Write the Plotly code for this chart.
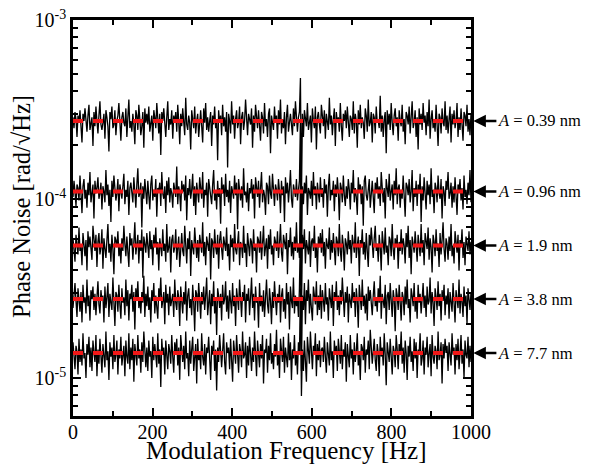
import numpy as np
import plotly.graph_objects as go

# Mean phase-noise levels (red dashed lines), rad/sqrt(Hz)
amplitudes = ["0.39", "0.96", "1.9", "3.8", "7.7"]
levels = [2.73e-4, 1.10e-4, 5.50e-5, 2.76e-5, 1.38e-5]

# Estimated fluctuations of each trace about its mean, in hundredths of a decade
dev_039 = [
    2,-4,5,1,-9,3,-1,6,-3,-12,4,0,7,-2,-6,3,9,-5,-1,2,-14,5,-3,8,0,
    -7,3,11,-2,-5,-1,4,-10,6,2,-3,-17,5,1,8,-4,-2,6,-8,0,3,10,-6,-11,2,
    5,-1,-3,7,-9,2,12,-4,0,-6,4,-2,-13,6,3,-5,9,1,-8,-3,5,-15,7,-1,4,
    -2,8,-6,0,3,-11,6,2,-4,10,-1,-7,4,-19,5,0,7,-3,-9,2,11,-5,1,-2,6,
    -10,3,-1,5,-6,9,0,-13,4,-3,7,1,-8,13,-2,-5,3,-1,-16,6,2,-4,8,-7,0,
    4,-9,1,6,-3,-12,7,-1,10,-5,2,-6,0,5,-14,3,-2,8,-4,1,-22,6,-1,3,-8,
    9,-3,2,-6,5,-26,4,0,-7,11,-2,3,-10,1,6,-4,-1,8,-13,2,5,-5,0,12,-3,
    -8,4,1,-2,7,-15,3,-6,9,0,-4,6,-1,-11,5,2,-7,10,-3,1,-9,4,7,-18,3,
    0,-5,8,-1,3,-10,6,-2,12,-7,1,-4,5,-13,2,9,-6,0,4,-2,-8,7,-3,11,-1,
    -6,2,5,24,-45,4,-9,6,1,-3,10,-5,-1,3,-12,7,0,-4,8,-16,2,5,-2,-7,9,
    1,-3,6,-10,4,0,-5,13,-2,3,-8,1,7,-14,5,-1,2,-6,10,-3,-11,4,0,6,-4,
    8,-2,-9,3,1,-5,11,-7,4,0,-15,6,-2,9,-4,2,-1,-10,7,3,-6,12,-3,-1,5,
    -12,4,2,-7,8,-1,0,-4,14,-6,3,-9,1,5,-18,6,-2,4,-5,10,-1,-8,3,7,-3,
    2,-11,6,0,-3,9,-6,1,-13,5,3,-2,8,-7,0,11,-4,-1,6,-9,2,-16,7,-2,4,
    -5,10,-1,3,-8,5,-3,12,-10,1,6,-4,0,-6,9,-2,-14,4,2,-7,7,-1,-3,11,-5,
    3,-7,1,8,-12,4,-2,6,-4,0,10,-9,2,-5,7,-1,-11,5,3,-3,9,-6,1,-8,4,
]
dev_096 = [
    -3,6,0,-8,4,2,-5,9,-1,-12,3,7,-4,1,-9,5,-2,11,-6,0,4,-15,6,-1,2,
    8,-4,-1,5,-10,3,0,-6,12,-2,4,-8,1,-17,6,-3,9,2,-5,-1,7,-11,4,0,-4,
    3,10,-7,1,-3,6,-13,2,5,-1,-6,8,0,-9,4,13,-3,-1,5,-20,3,-4,7,1,-7,
    6,-2,-10,4,9,-5,1,-3,7,-14,2,0,5,-8,11,-1,-4,3,-12,6,-2,8,-6,2,-1,
    -9,5,1,-3,14,-7,3,-1,-11,6,0,4,-5,9,-16,2,-2,7,-4,1,10,-8,3,-13,5,
    0,-6,8,2,-4,11,-9,1,-2,5,-14,7,3,-1,-7,4,12,-5,0,-10,6,-3,2,-18,8,
    -1,4,-8,10,-3,1,-6,6,-12,3,0,-4,9,-2,5,-21,7,1,-5,3,-9,13,-2,0,-6,
    5,-11,2,-1,7,-4,4,-15,8,0,-3,6,-9,2,11,-6,1,-2,-13,5,3,-7,9,-1,-4,
    10,-3,-8,4,1,-5,7,0,-12,6,-2,3,-17,8,-1,5,-6,2,12,-4,-9,4,0,-3,7,
    -5,1,6,40,-40,3,-7,5,-1,9,-13,2,0,-4,6,-8,11,-2,3,-10,5,-1,-6,8,-3,
    2,-9,7,-1,4,-14,3,10,-5,1,-2,6,-11,4,-3,8,0,-16,5,2,-6,9,-2,-8,3,
    -4,7,1,-10,5,-1,12,-6,2,-3,-13,8,0,4,-7,3,-19,6,9,-2,-5,1,7,-9,2,
    6,-3,-12,5,0,8,-4,3,-8,11,-1,-6,2,-15,7,1,-3,10,-5,0,4,-10,6,-2,13,
    -7,2,4,-9,1,-4,9,-1,-14,5,3,-2,7,-6,0,12,-11,2,-3,6,-8,4,-1,10,-17,
    3,-5,8,0,-10,6,-2,4,-7,13,-3,1,-12,5,2,-6,9,-1,-4,7,-15,3,0,-8,6,
    1,11,-4,-1,5,-9,3,-6,8,-2,-13,4,0,7,-5,2,-10,9,-3,1,-7,5,-2,12,-6,
]
dev_19 = [
    4,-2,-9,6,1,-5,10,-3,0,-11,7,2,-6,3,-14,8,-1,5,-4,-8,11,0,-3,6,-12,
    2,7,-5,-1,9,-13,4,0,-7,3,12,-4,1,-9,6,-2,-16,5,3,-1,8,-6,0,-10,4,
    -3,11,1,-6,5,-2,-12,7,0,4,-8,2,13,-5,-1,6,-10,3,-3,9,-18,5,1,-4,7,
    0,-7,8,-2,3,-11,6,-1,10,-5,2,-14,4,0,-6,9,-3,1,-9,12,-4,-1,5,-15,3,
    6,-4,-1,9,-8,2,5,-12,0,7,-3,-6,11,1,-10,4,-2,8,-17,3,0,-5,10,-2,-7,
    3,-9,6,1,-4,13,-6,2,-11,5,0,-3,7,-19,4,2,-7,9,-1,-5,6,-13,3,8,-2,
    -8,5,0,-3,10,-6,1,-14,6,-1,4,-9,12,-2,-5,3,8,-11,2,0,-7,11,-4,1,-12,
    7,-1,-6,4,2,-10,9,-3,0,-15,5,3,-4,8,-8,1,11,-6,-1,4,-13,6,-2,9,-5,
    0,-11,5,2,-3,8,-7,1,12,-4,-9,6,0,-2,7,-16,3,-1,10,-6,2,-8,5,-3,13,
    -4,1,-7,38,-40,6,-2,9,-10,3,0,-5,8,-12,2,4,-3,11,-7,1,-15,5,-1,7,-4,
    9,-6,2,-13,4,0,-2,10,-8,3,-4,7,-1,-11,5,2,-6,12,-3,-9,6,0,-14,4,1,
    -5,8,-2,3,-10,6,1,-4,13,-7,0,5,-17,3,-1,9,-5,2,-8,7,-3,-12,6,0,10,
    -2,-7,4,11,-3,1,-9,6,-1,-14,8,2,-5,10,-4,0,-11,5,3,-6,12,-2,-8,4,-1,
    6,-13,2,-3,9,-5,4,0,-10,7,-1,11,-7,3,-16,5,1,-4,8,-2,-9,6,0,-6,12,
    -4,3,-11,7,0,-2,10,-8,4,-1,-15,6,2,-6,9,-3,1,-12,7,-5,3,13,-2,-9,4,
    1,-8,5,-3,12,-6,0,-10,8,2,-4,6,-14,3,-1,9,-7,2,-11,5,0,-3,8,-5,2,
]
dev_38 = [
    -5,3,9,-1,-10,6,0,-7,4,-13,8,-2,1,-8,11,-4,2,-12,5,0,7,-6,3,-9,1,
    10,-3,-8,5,-1,2,-13,7,-5,1,9,-10,3,-2,-6,12,0,-15,4,2,-7,8,-3,-11,6,
    -2,1,-9,11,-4,5,-12,3,0,8,-7,4,-17,6,-1,10,-5,1,-8,4,-2,13,-10,3,-4,
    7,-6,1,-13,5,-1,9,-8,2,-3,-11,6,0,12,-5,-1,4,-14,8,-2,3,-9,7,-4,0,
    3,-10,11,-2,-6,5,1,-15,7,-1,-8,4,-3,10,-12,2,6,-5,0,-9,8,-2,-18,5,3,
    -7,9,0,-11,4,-3,7,-6,2,12,-9,-1,5,-14,3,-4,10,-8,1,-20,6,2,-5,3,-12,
    8,-3,0,10,-7,2,-11,5,-1,-8,9,-4,2,-15,6,0,-6,11,-2,-10,4,-1,8,-13,3,
    -1,6,-9,1,12,-5,3,-12,7,-2,0,-16,9,-4,2,-7,5,-10,1,11,-3,-8,6,-1,-14,
    4,-5,10,0,-9,3,-2,8,-13,2,6,-7,0,-11,9,-3,4,-17,7,-1,-5,12,-8,2,-4,
    1,-10,6,38,-40,2,-6,9,-14,5,-1,11,-8,3,-5,-12,7,0,-3,10,-9,2,-6,8,-11,
    5,-2,-7,9,-3,1,-12,6,0,-5,8,-15,4,-1,10,-6,2,-9,5,-3,12,-1,-10,4,-2,
    7,-13,3,0,-5,9,-2,4,-10,6,-1,-16,8,1,-6,11,-4,2,-8,3,-12,7,-1,5,-3,
    -9,2,10,-4,0,-7,6,-2,13,-11,3,-1,-5,8,-14,2,4,-6,9,-1,-10,5,0,-18,6,
    2,-6,8,-1,-12,4,1,-9,7,-3,11,-5,0,-13,6,2,-4,9,-7,1,-11,8,-2,3,-8,
    0,9,-5,2,-10,7,-3,-1,12,-8,4,-2,-15,6,1,-6,10,-4,3,-12,5,-1,8,-9,2,
    -3,6,-11,4,0,-7,9,-2,-13,5,1,-5,11,-8,3,-1,-10,7,-4,2,-14,6,0,-6,4,
]
dev_77 = [
    6,-2,-9,4,1,-12,8,-5,2,-7,11,-3,0,-14,5,-1,9,-8,3,-10,7,0,-5,10,-13,
    2,-6,8,-1,-11,5,0,-8,12,-4,1,-15,6,-2,3,-9,10,-5,-1,7,-12,2,-3,9,-7,
    -1,4,-13,7,-2,-6,11,-9,3,-4,8,-16,5,0,-7,10,-3,2,-11,6,-5,12,-2,-8,3,
    -10,7,-2,1,-14,9,-4,5,-1,-8,11,-6,2,-19,8,-1,3,-12,7,-3,-9,5,1,-6,10,
    -2,-11,6,0,8,-7,3,-15,10,-1,-5,4,-9,12,-3,0,-13,7,-6,2,9,-10,-2,5,-17,
    8,-4,1,-9,11,-2,-7,5,-12,3,0,9,-6,-15,4,-1,7,-10,2,-21,3,-5,10,-3,-8,
    1,11,-5,-12,6,0,3,-9,8,-4,-16,7,0,-6,10,-2,-11,5,1,-8,12,-3,-1,6,-14,
    4,-7,9,-1,-10,3,-5,12,-2,-13,7,1,-8,5,-3,10,-17,2,0,8,-11,4,-4,11,-6,
    0,-9,5,-2,13,-7,1,-14,8,0,-5,9,-11,3,-1,-8,11,-4,6,-15,2,-3,10,-7,1,
    -12,6,-1,36,-24,2,-10,7,-3,-16,9,0,-6,12,-2,-9,4,0,11,-13,5,-4,7,-8,2,
    3,-5,9,-2,-11,6,0,-7,12,-4,1,-14,7,-1,4,-10,8,-3,-6,10,-9,2,-2,6,-16,
    5,-1,-8,10,-3,2,-12,6,-5,1,11,-7,0,-15,5,3,-4,9,-11,2,-1,7,-9,13,-2,
    -6,1,8,-4,-10,5,0,-13,9,-2,3,-7,11,-1,-18,6,2,-5,8,-3,-12,4,1,-8,10,
    2,-9,5,-1,12,-6,3,-11,7,0,-15,4,-2,9,-5,1,-10,8,-3,6,-14,2,0,11,-7,
    -3,7,-12,3,-1,9,-8,0,5,-13,10,-2,-6,4,1,-9,12,-4,-1,6,-17,5,-3,8,0,
    4,-10,6,-2,-7,11,-1,3,-12,5,-4,8,-9,0,10,-6,2,-14,7,-1,-3,9,-8,4,-5,
]
deviations = [dev_039, dev_096, dev_19, dev_38, dev_77]

x_range = [0, 1000]
x_ticks = [0, 200, 400, 600, 800, 1000]
x_minor = [100, 300, 500, 700, 900]
y_ticks = [1e-5, 1e-4, 1e-3]
y_ticktext = ["10<sup>-5</sup>", "10<sup>-4</sup>", "10<sup>-3</sup>"]
y_minor = [7e-6, 8e-6, 9e-6] + [k * 1e-5 for k in range(2, 10)] + [k * 1e-4 for k in range(2, 10)]

FONT = "Liberation Serif, Times New Roman, serif"

fig = go.Figure()

for lvl, dev in zip(levels, deviations):
    d = np.array(dev, dtype=float)
    freq = np.linspace(x_range[0], x_range[1], len(d))
    fig.add_trace(go.Scatter(
        x=freq, y=lvl * 10 ** (d / 100.0), mode="lines",
        line=dict(color="black", width=1.3), hoverinfo="skip"))

for lvl in levels:
    fig.add_trace(go.Scatter(
        x=x_range, y=[lvl, lvl], mode="lines",
        line=dict(color="#f01818", width=4, dash="10px,10px"), hoverinfo="skip"))

for amp, lvl in zip(amplitudes, levels):
    fig.add_annotation(
        xref="paper", yref="y", x=1.006, y=np.log10(lvl),
        text=f"<i>A</i> = {amp} nm", xanchor="left", yanchor="middle",
        showarrow=True, ax=23, ay=0, arrowhead=2, arrowsize=1,
        arrowwidth=2.5, arrowcolor="black", standoff=0,
        font=dict(family=FONT, size=16.5, color="black"))

fig.add_annotation(
    xref="paper", yref="paper", x=0.534, y=-0.088, xanchor="center", yanchor="middle",
    showarrow=False, text="Modulation Frequency [Hz]",
    font=dict(family=FONT, size=25, color="black"))

fig.add_annotation(
    xref="paper", yref="paper", x=-0.128, y=0.528, xanchor="center", yanchor="middle",
    showarrow=False, textangle=-90, text="Phase Noise [rad/√Hz]",
    font=dict(family=FONT, size=24.5, color="black"))

# The page body adds an 8 px offset, so the figure is sized to fill the window after it.
fig.update_layout(
    width=581, height=458,
    margin=dict(l=65, r=118, t=12, b=50),
    paper_bgcolor="white", plot_bgcolor="white",
    showlegend=False,
    font=dict(family=FONT, color="black"),
)

fig.update_xaxes(
    range=x_range, tickvals=x_ticks, ticks="inside", ticklen=8, tickwidth=2,
    tickcolor="black", tickfont=dict(size=20), showline=True, linecolor="black",
    linewidth=2.5, mirror="ticks", showgrid=False, zeroline=False, automargin=False,
    ticklabeloverflow="allow", ticklabelstandoff=-4,
    minor=dict(tickvals=x_minor, ticks="inside", ticklen=5, tickwidth=2, tickcolor="black"),
)
fig.update_yaxes(
    type="log", range=[-5.212, -3], tickvals=y_ticks, ticktext=y_ticktext,
    ticks="inside", ticklen=8, tickwidth=2, tickcolor="black",
    tickfont=dict(size=20), showline=True, linecolor="black", linewidth=2.5,
    mirror="ticks", showgrid=False, zeroline=False, automargin=False,
    ticklabeloverflow="allow",
    minor=dict(tickvals=y_minor, ticks="inside", ticklen=5, tickwidth=2, tickcolor="black"),
)

fig.write_html("out.html")
